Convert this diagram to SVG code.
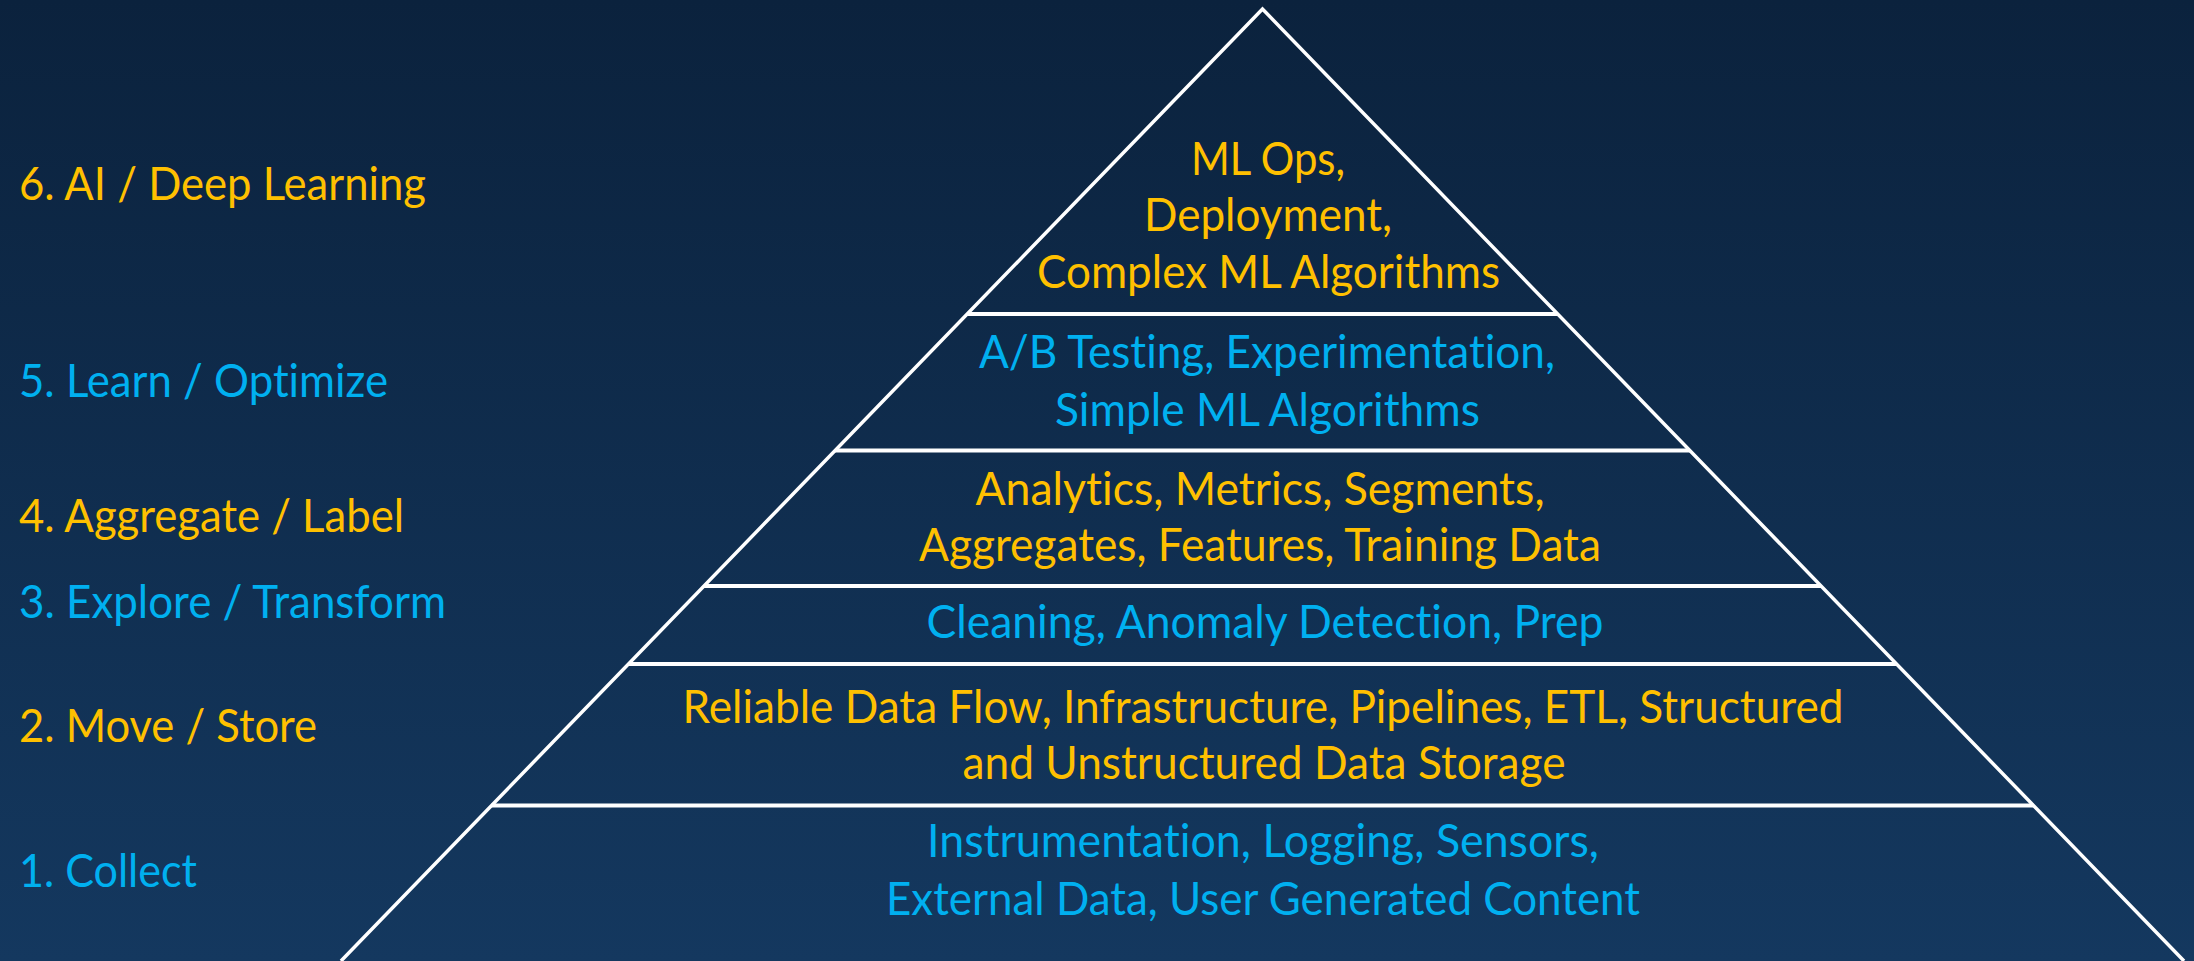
<svg xmlns="http://www.w3.org/2000/svg" width="2194" height="961" viewBox="0 0 2194 961">
  <defs>
    <linearGradient id="bg" x1="0" y1="0" x2="0" y2="1">
      <stop offset="0" stop-color="#0b223d"/>
      <stop offset="1" stop-color="#14385f"/>
    </linearGradient>
    <style>
      text { font-family: "Lato", "Liberation Sans", sans-serif; font-size: 46px; font-variant-ligatures: none; font-feature-settings: "liga" 0, "clig" 0; }
      .y { fill: #FFC000; }
      .b { fill: #00B0F0; }
      .c { text-anchor: middle; }
      .edge { stroke: #ffffff; stroke-width: 3.5; fill: none; stroke-linejoin: miter; }
      .div { stroke: #ffffff; stroke-width: 4; }
    </style>
  </defs>
  <rect width="2194" height="961" fill="url(#bg)"/>

  <g id="outline">
    <polyline class="edge" points="341,961 1262.5,9 2184,961"/>
    <line class="div" x1="967.3" y1="314" x2="1557.7" y2="314"/>
    <line class="div" x1="835.1" y1="450.5" x2="1689.9" y2="450.5"/>
    <line class="div" x1="704" y1="586" x2="1821" y2="586"/>
    <line class="div" x1="628.5" y1="664" x2="1896.5" y2="664"/>
    <line class="div" x1="491.5" y1="805.5" x2="2033.5" y2="805.5"/>
  </g>

  <g id="labels">
    <text class="y" x="19" y="200" textLength="407" lengthAdjust="spacingAndGlyphs">6. AI / Deep Learning</text>
    <text class="b" x="19" y="397" textLength="369" lengthAdjust="spacingAndGlyphs">5. Learn / Optimize</text>
    <text class="y" x="19" y="532" textLength="385" lengthAdjust="spacingAndGlyphs">4. Aggregate / Label</text>
    <text class="b" x="19" y="618" textLength="427" lengthAdjust="spacingAndGlyphs">3. Explore / Transform</text>
    <text class="y" x="19" y="742" textLength="298" lengthAdjust="spacingAndGlyphs">2. Move / Store</text>
    <text class="b" x="19" y="887" textLength="178" lengthAdjust="spacingAndGlyphs">1. Collect</text>
  </g>

  <g id="layer6">
    <text class="y c" x="1268" y="175" textLength="154" lengthAdjust="spacingAndGlyphs">ML Ops,</text>
    <text class="y c" x="1268" y="231" textLength="248" lengthAdjust="spacingAndGlyphs">Deployment,</text>
    <text class="y c" x="1268.5" y="288" textLength="463" lengthAdjust="spacingAndGlyphs">Complex ML Algorithms</text>
  </g>
  <g id="layer5">
    <text class="b c" x="1267" y="368" textLength="576" lengthAdjust="spacingAndGlyphs">A/B Testing, Experimentation,</text>
    <text class="b c" x="1267.5" y="426" textLength="425" lengthAdjust="spacingAndGlyphs">Simple ML Algorithms</text>
  </g>
  <g id="layer4">
    <text class="y c" x="1260" y="505" textLength="569" lengthAdjust="spacingAndGlyphs">Analytics, Metrics, Segments,</text>
    <text class="y c" x="1260" y="561" textLength="682" lengthAdjust="spacingAndGlyphs">Aggregates, Features, Training Data</text>
  </g>
  <g id="layer3">
    <text class="b c" x="1265" y="638" textLength="677" lengthAdjust="spacingAndGlyphs">Cleaning, Anomaly Detection, Prep</text>
  </g>
  <g id="layer2">
    <text class="y c" x="1263" y="723" textLength="1161" lengthAdjust="spacingAndGlyphs">Reliable Data Flow, Infrastructure, Pipelines, ETL, Structured</text>
    <text class="y c" x="1264" y="779" textLength="603" lengthAdjust="spacingAndGlyphs">and Unstructured Data Storage</text>
  </g>
  <g id="layer1">
    <text class="b c" x="1263" y="857" textLength="672" lengthAdjust="spacingAndGlyphs">Instrumentation, Logging, Sensors,</text>
    <text class="b c" x="1263" y="915" textLength="754" lengthAdjust="spacingAndGlyphs">External Data, User Generated Content</text>
  </g>
</svg>
